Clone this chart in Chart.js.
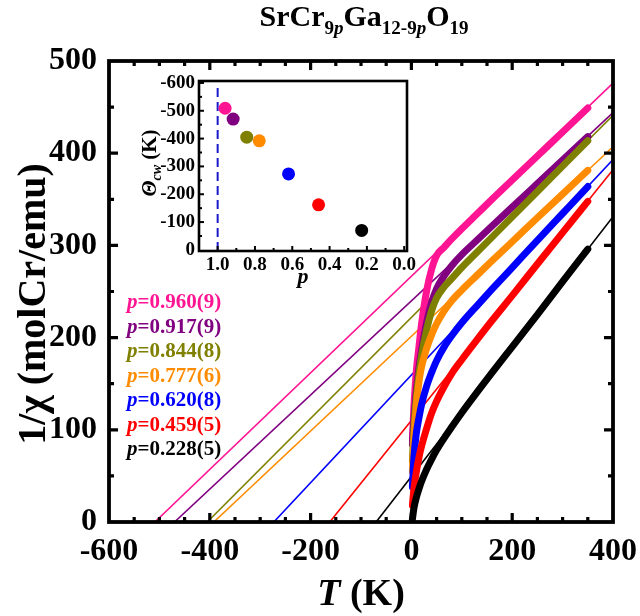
<!DOCTYPE html>
<html>
<head>
<meta charset="utf-8">
<script src="https://cdn.jsdelivr.net/npm/chart.js@4.4.1/dist/chart.umd.min.js"></script>
<style>
  body { margin: 0; background: #fff; }
  #wrap { position: relative; width: 640px; height: 616px; }
  #mainCvs { position: absolute; left: 0; top: 0; }
  #insetCvs { position: absolute; left: 140px; top: 70px; }
</style>
</head>
<body>
<div id="wrap">
  <canvas id="mainCvs" width="640" height="616"></canvas>
  <canvas id="insetCvs" width="280" height="220"></canvas>
</div>
<script>
// samples
const pLabels = ['0.960(9)', '0.917(9)', '0.844(8)', '0.777(6)', '0.620(8)', '0.459(5)', '0.228(5)'];
const pValues = [0.960, 0.917, 0.844, 0.777, 0.620, 0.459, 0.228];
const thetaCW = [-509, -470, -405, -392, -273, -162, -70];   // Curie-Weiss temperature (K)
const fitAt400 = [476, 444, 441, 407, 393, 382, 331];         // fit line value at T = 400 K
const colors = ['#ff1493', '#800080', '#808000', '#ff8c00', '#0000ff', '#ff0000', '#000000'];

// 1/chi vs T
const tempK = [2, 5, 10, 15, 20, 30, 40, 50, 65, 80, 100, 130, 160, 200, 250, 300, 350];
const invChi960 = [90, 125, 165, 190, 214, 250, 274, 289, 298, 307, 318, 334, 350, 371, 397, 423, 449];
const invChi917 = [84, 110, 143, 167, 186, 216, 238, 253, 267, 278, 290, 305.5, 321, 341.5, 367, 392.5, 418];
const invChi844 = [66, 100, 136, 160, 180, 208, 229, 243, 255, 264, 276, 292.5, 309, 331, 358.5, 386, 413.5];
const invChi777 = [55, 90, 128, 152, 168, 188, 203, 215, 229, 240, 251.5, 267.5, 283.3, 304, 330, 355.6, 381.4];
const invChi620 = [38, 70, 97, 113, 127, 147, 162, 175, 190, 202, 216, 234.5, 252.5, 276, 305.4, 334.6, 363.8];
const invChi459 = [18, 36, 55, 70, 82, 101, 118, 131, 147, 161, 176, 197.5, 218.5, 245.5, 279.8, 313.8, 347.7];
const invChi228 = [3, 15, 27, 36, 44, 57, 68, 78, 91, 103, 118.5, 140.5, 162, 190, 225, 260.6, 296];
const invChiSeries = [invChi960, invChi917, invChi844, invChi777, invChi620, invChi459, invChi228];

const tRange = [-600, 400];
const invChiRange = [0, 500];
const xTicksMain = [-600, -400, -200, 0, 200, 400];
const yTicksMain = [0, 100, 200, 300, 400, 500];
const xTicksInset = [1.0, 0.8, 0.6, 0.4, 0.2, 0.0];
const yTicksInset = [-600, -500, -400, -300, -200, -100, 0];
const pBoundary = 1.0;

const SERIF = '"Liberation Serif", "Times New Roman", serif';

function fontStr(p) {
  return (p.i ? 'italic ' : '') + 'bold ' + p.s + 'px ' + SERIF;
}
// mixed text: italic letters and subscripts
function drawRich(ctx, parts, x, y, align) {
  let w = 0;
  parts.forEach(p => { ctx.font = fontStr(p); w += ctx.measureText(p.t).width; });
  let cx = align === 'center' ? x - w / 2 : x;
  ctx.textAlign = 'left';
  ctx.textBaseline = 'alphabetic';
  parts.forEach(p => {
    ctx.font = fontStr(p);
    ctx.fillText(p.t, cx, y + (p.dy || 0));
    cx += ctx.measureText(p.t).width;
  });
}

// inward ticks on the given sides
function drawTicks(ctx, area, scale, from, to, minor, major, sides, lenMaj, lenMin) {
  for (let v = from; v <= to + 1e-9; v += minor) {
    const val = Math.round(v * 1000) / 1000;
    const isMaj = Math.abs(val / major - Math.round(val / major)) < 1e-6;
    const len = isMaj ? lenMaj : lenMin;
    const px = scale.getPixelForValue(val);
    ctx.beginPath();
    if (sides.includes('b')) { ctx.moveTo(px, area.bottom); ctx.lineTo(px, area.bottom - len); }
    if (sides.includes('t')) { ctx.moveTo(px, area.top); ctx.lineTo(px, area.top + len); }
    if (sides.includes('l')) { ctx.moveTo(area.left, px); ctx.lineTo(area.left + len, px); }
    if (sides.includes('r')) { ctx.moveTo(area.right, px); ctx.lineTo(area.right - len, px); }
    ctx.stroke();
  }
}

// keep the plot box where it is, labels may overflow
function noOverflow(s) {
  s.paddingLeft = 0; s.paddingRight = 0; s.paddingTop = 0; s.paddingBottom = 0;
}

const mainDeco = {
  id: 'mainDeco',
  afterDraw(chart) {
    const { ctx, chartArea: a, scales: { x, y } } = chart;
    ctx.save();
    ctx.strokeStyle = '#000';
    ctx.fillStyle = '#000';
    ctx.lineWidth = 3.2;
    drawTicks(ctx, a, x, -550, 350, 50, 200, 'bt', 9, 5);
    drawTicks(ctx, a, y, 50, 450, 50, 100, 'lr', 9, 5);
    ctx.lineWidth = 3.8;
    ctx.strokeRect(a.left, a.top, a.right - a.left, a.bottom - a.top);

    // title
    drawRich(ctx, [
      { t: 'SrCr', s: 30 }, { t: '9', s: 19, dy: 8 }, { t: 'p', s: 19, i: true, dy: 8 },
      { t: 'Ga', s: 30 }, { t: '12-9', s: 19, dy: 8 }, { t: 'p', s: 19, i: true, dy: 8 },
      { t: 'O', s: 30 }, { t: '19', s: 19, dy: 8 }
    ], 364, 26, 'center');

    // axis titles
    const cxArea = (a.left + a.right) / 2;
    drawRich(ctx, [{ t: 'T', s: 38, i: true }, { t: ' (K)', s: 38 }], cxArea, 605, 'center');
    ctx.save();
    ctx.translate(31, 304);
    ctx.rotate(-Math.PI / 2);
    drawRich(ctx, [{ t: '1/χ (molCr/emu)', s: 40 }], 0, 14, 'center');
    ctx.restore();

    // sample labels
    pLabels.forEach((lab, i) => {
      ctx.fillStyle = colors[i];
      drawRich(ctx, [{ t: 'p', s: 21, i: true }, { t: '=' + lab, s: 21 }], a.left + 18, 308 + i * 24.5, 'left');
    });
    ctx.restore();
  }
};

const mainDatasets = [];
thetaCW.forEach((th, i) => {
  mainDatasets.push({
    data: [{ x: th, y: 0 }, { x: tRange[1], y: fitAt400[i] }],
    showLine: true, borderColor: colors[i], borderWidth: 1.6, pointRadius: 0, order: 20
  });
});
invChiSeries.forEach((vals, i) => {
  mainDatasets.push({
    data: tempK.map((t, j) => ({ x: t, y: vals[j] })),
    showLine: true, borderColor: colors[i], borderWidth: 7, pointRadius: 0,
    cubicInterpolationMode: 'monotone', borderJoinStyle: 'round', borderCapStyle: 'round',
    order: 10 - i
  });
});

const tickFont = { family: SERIF, size: 32, weight: 'bold' };
new Chart(document.getElementById('mainCvs').getContext('2d'), {
  type: 'scatter',
  data: { datasets: mainDatasets },
  options: {
    responsive: false, animation: false, devicePixelRatio: 1,
    layout: { padding: { top: 61, right: 27, left: 0, bottom: 0 } },
    plugins: { legend: { display: false }, tooltip: { enabled: false } },
    scales: {
      x: {
        type: 'linear', min: tRange[0], max: tRange[1],
        grid: { display: false, drawTicks: false }, border: { display: false },
        afterBuildTicks: s => { s.ticks = xTicksMain.map(v => ({ value: v })); },
        afterFit: s => { s.height = 94; noOverflow(s); },
        ticks: { font: tickFont, color: '#000', padding: 11, maxRotation: 0, autoSkip: false }
      },
      y: {
        type: 'linear', min: invChiRange[0], max: invChiRange[1],
        grid: { display: false, drawTicks: false }, border: { display: false },
        afterBuildTicks: s => { s.ticks = yTicksMain.map(v => ({ value: v })); },
        afterFit: s => { s.width = 109; noOverflow(s); },
        ticks: { font: tickFont, color: '#000', padding: 12, autoSkip: false }
      }
    }
  },
  plugins: [mainDeco]
});

// inset: theta_cw vs p
const insetDeco = {
  id: 'insetDeco',
  beforeDatasetsDraw(chart) {
    const { ctx, chartArea: a, scales: { x } } = chart;
    const px = x.getPixelForValue(pBoundary);
    ctx.save();
    ctx.strokeStyle = '#1a1acc';
    ctx.lineWidth = 2;
    ctx.setLineDash([9, 5]);
    ctx.beginPath();
    ctx.moveTo(px, a.bottom);
    ctx.lineTo(px, a.top + 3);
    ctx.stroke();
    ctx.restore();
  },
  afterDraw(chart) {
    const { ctx, chartArea: a, scales: { x, y } } = chart;
    ctx.save();
    ctx.strokeStyle = '#000';
    ctx.fillStyle = '#000';
    ctx.lineWidth = 2;
    drawTicks(ctx, a, x, 0, 1.0, 0.1, 0.2, 'b', 5, 3);
    drawTicks(ctx, a, y, -600, -50, 50, 100, 'l', 5, 3);
    ctx.lineWidth = 2.6;
    ctx.strokeRect(a.left, a.top, a.right - a.left, a.bottom - a.top);
    drawRich(ctx, [{ t: 'p', s: 22, i: true }], (a.left + a.right) / 2, a.bottom + 32, 'center');
    ctx.save();
    ctx.translate(a.left - 50, (a.top + a.bottom) / 2 - 3);
    ctx.rotate(-Math.PI / 2);
    drawRich(ctx, [{ t: 'Θ', s: 21, i: true }, { t: 'cw', s: 14, i: true, dy: 5 }, { t: ' (K)', s: 21 }], 0, 7, 'center');
    ctx.restore();
    ctx.restore();
  }
};

const insetFont = { family: SERIF, size: 19, weight: 'bold' };
new Chart(document.getElementById('insetCvs').getContext('2d'), {
  type: 'scatter',
  data: {
    datasets: [{
      data: pValues.map((p, i) => ({ x: p, y: thetaCW[i] })),
      pointRadius: 6.5, pointHoverRadius: 6.5, pointBorderWidth: 0,
      pointBackgroundColor: colors, borderColor: colors
    }]
  },
  options: {
    responsive: false, animation: false, devicePixelRatio: 1,
    layout: { padding: { top: 11, right: 13, left: 0, bottom: 0 } },
    plugins: { legend: { display: false }, tooltip: { enabled: false } },
    scales: {
      x: {
        type: 'linear', min: -0.015, max: 1.1, reverse: true,
        grid: { display: false, drawTicks: false }, border: { display: false },
        afterBuildTicks: s => { s.ticks = xTicksInset.map(v => ({ value: v })); },
        afterFit: s => { s.height = 39; noOverflow(s); },
        ticks: { font: insetFont, color: '#000', padding: 3, maxRotation: 0, autoSkip: false,
                 callback: v => v.toFixed(1) }
      },
      y: {
        type: 'linear', min: -607, max: 4, reverse: true,
        grid: { display: false, drawTicks: false }, border: { display: false },
        afterBuildTicks: s => { s.ticks = yTicksInset.map(v => ({ value: v })); },
        afterFit: s => { s.width = 59; noOverflow(s); },
        ticks: { font: insetFont, color: '#000', padding: 4, autoSkip: false }
      }
    }
  },
  plugins: [insetDeco]
});
</script>
</body>
</html>
